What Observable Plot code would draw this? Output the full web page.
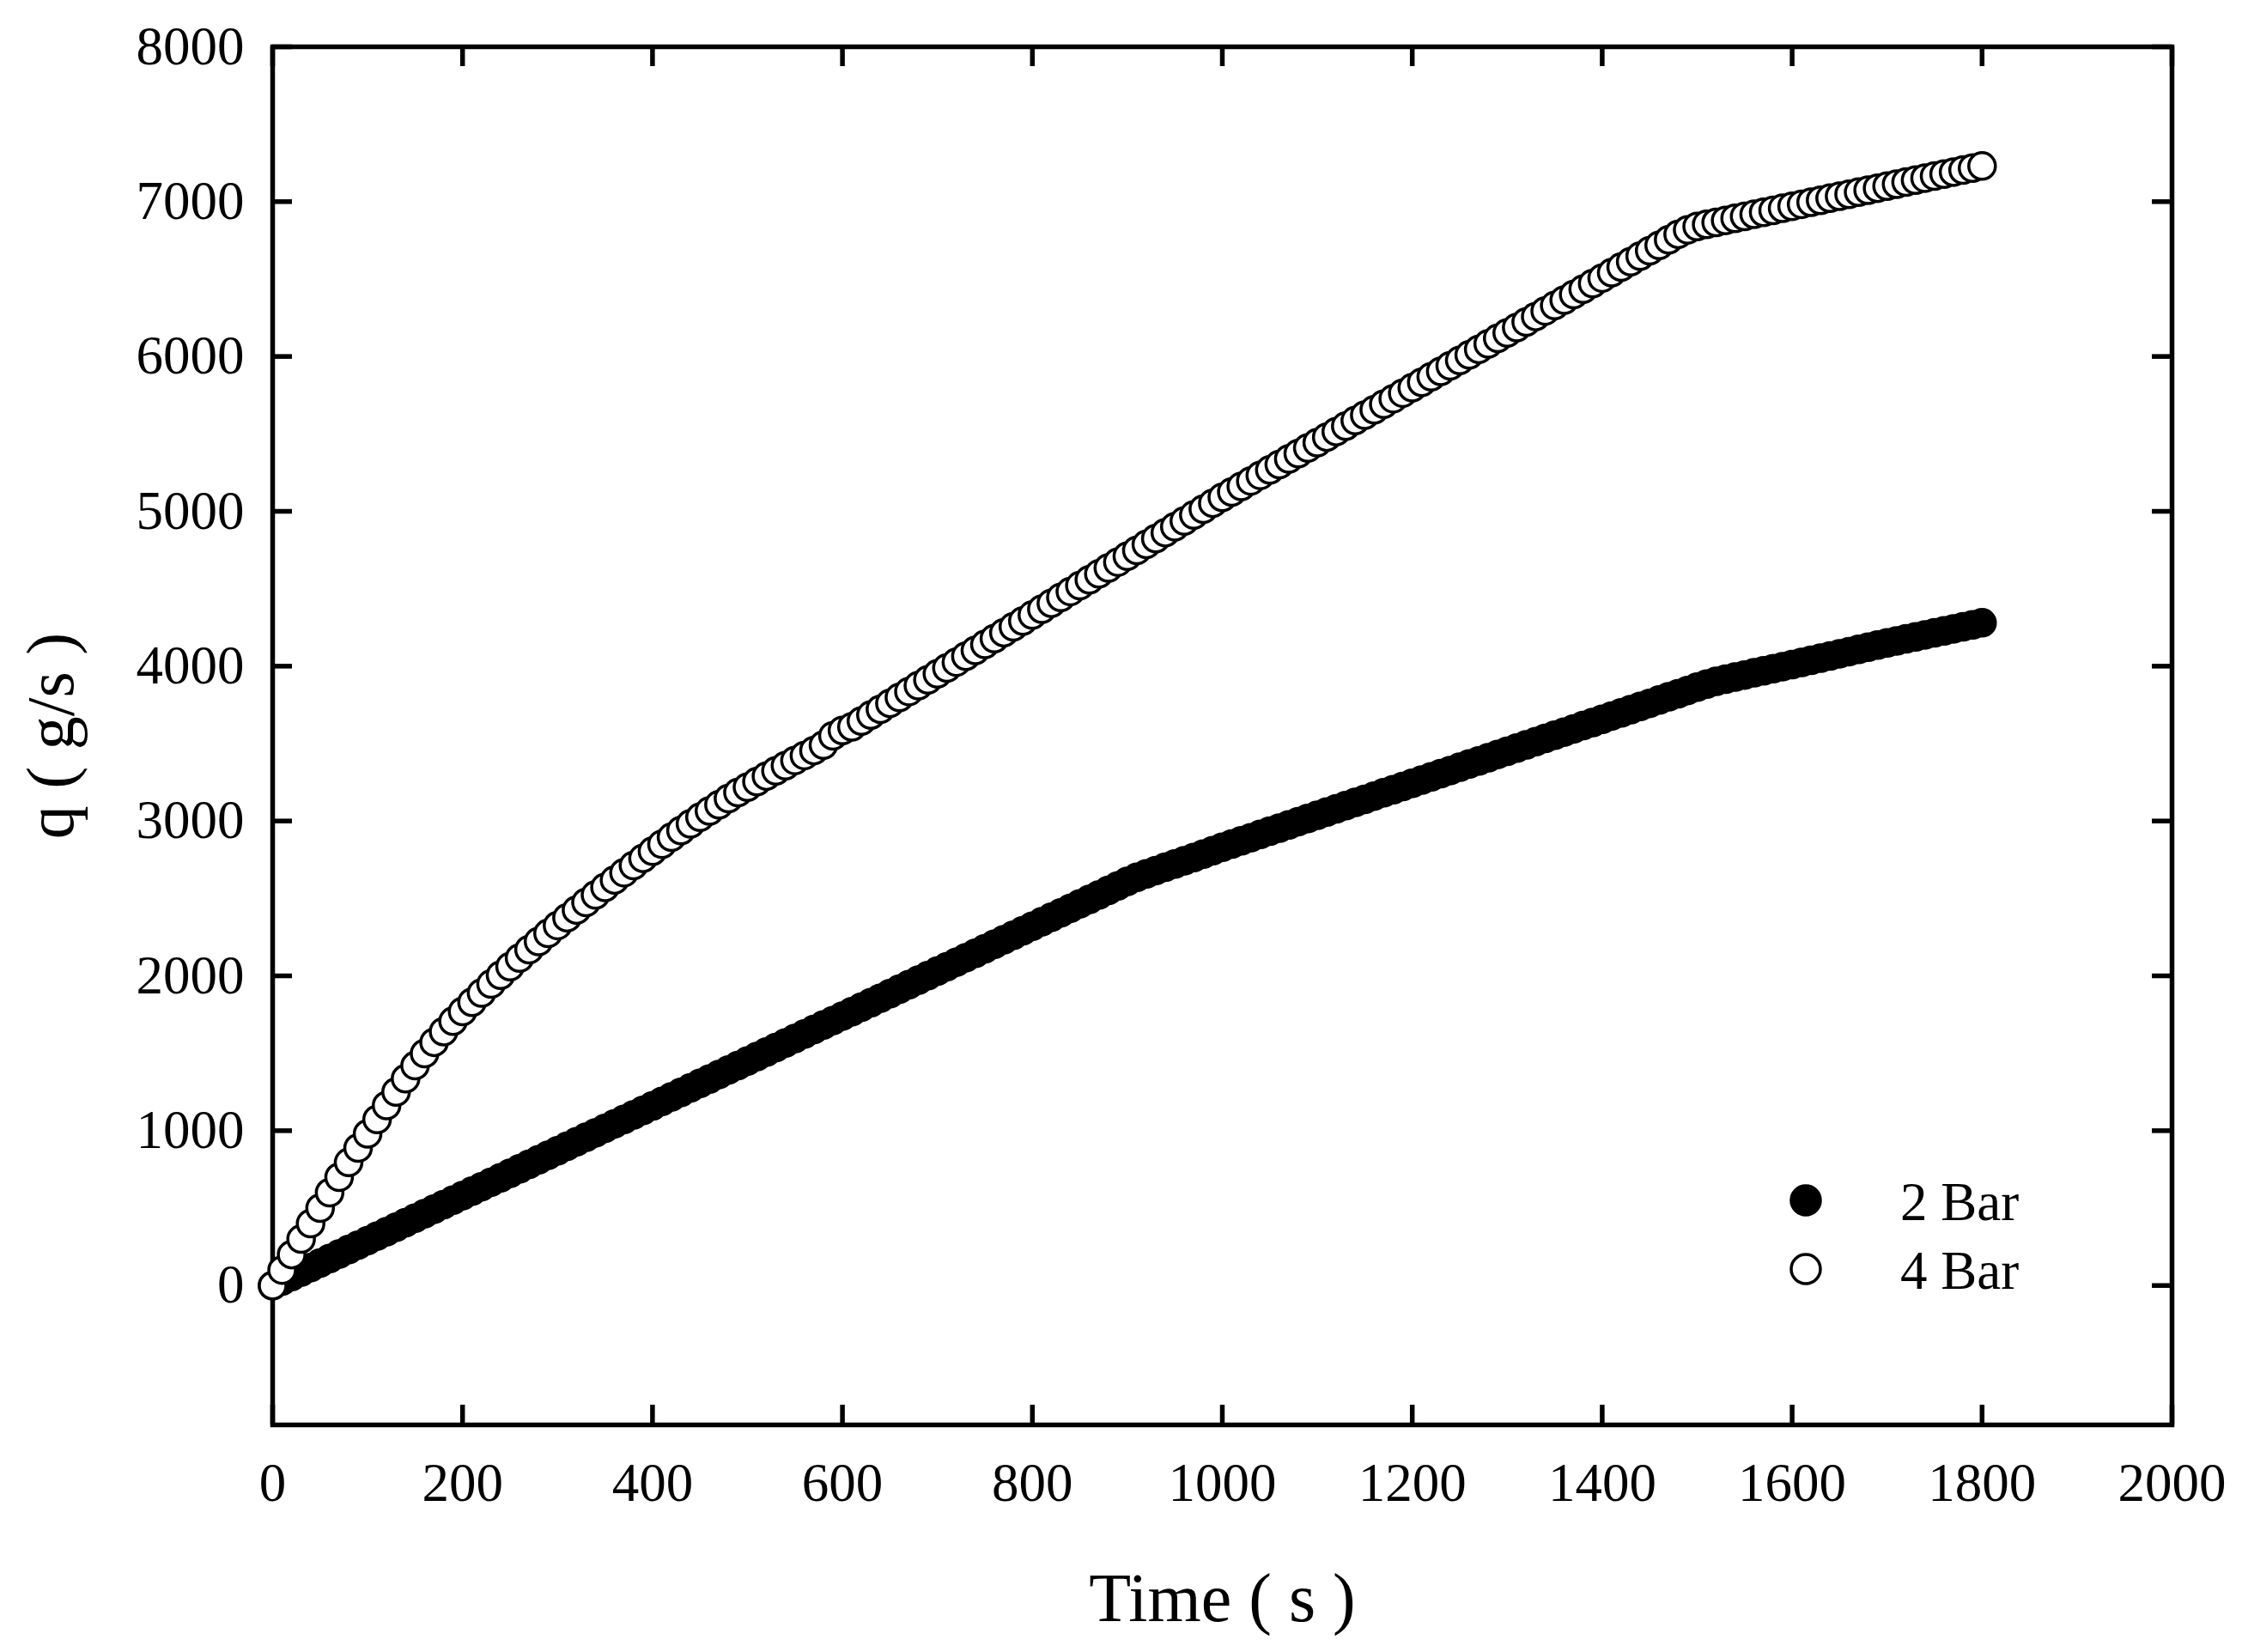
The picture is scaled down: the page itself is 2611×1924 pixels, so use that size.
<!DOCTYPE html>
<html>
<head>
<meta charset="utf-8">
<script src="https://cdn.jsdelivr.net/npm/d3@7"></script>
<script src="https://cdn.jsdelivr.net/npm/@observablehq/plot@0.6"></script>
<style>
html, body { margin: 0; padding: 0; background: #fff; }
#wrap { position: relative; width: 2611px; height: 1924px; }
</style>
</head>
<body>
<div id="wrap"></div>
<script>
// ---- data ----
const time = [
  0,10,20,30,40,50,60,70,80,90,
  100,110,120,130,140,150,160,170,180,190,
  200,210,220,230,240,250,260,270,280,290,
  300,310,320,330,340,350,360,370,380,390,
  400,410,420,430,440,450,460,470,480,490,
  500,510,520,530,540,550,560,570,580,590,
  600,610,620,630,640,650,660,670,680,690,
  700,710,720,730,740,750,760,770,780,790,
  800,810,820,830,840,850,860,870,880,890,
  900,910,920,930,940,950,960,970,980,990,
  1000,1010,1020,1030,1040,1050,1060,1070,1080,1090,
  1100,1110,1120,1130,1140,1150,1160,1170,1180,1190,
  1200,1210,1220,1230,1240,1250,1260,1270,1280,1290,
  1300,1310,1320,1330,1340,1350,1360,1370,1380,1390,
  1400,1410,1420,1430,1440,1450,1460,1470,1480,1490,
  1500,1510,1520,1530,1540,1550,1560,1570,1580,1590,
  1600,1610,1620,1630,1640,1650,1660,1670,1680,1690,
  1700,1710,1720,1730,1740,1750,1760,1770,1780,1790,
  1800
];
const q2Bar = [
  0,29,58,87,116,145,174,203,232,261,
  290,319,348,377,406,435,464,493,522,551,
  580,609,638,667,696,725,754,783,812,841,
  870,899,928,957,986,1015,1044,1073,1102,1131,
  1160,1189,1218,1247,1276,1305,1334,1363,1392,1421,
  1450,1479,1508,1537,1566,1595,1624,1653,1682,1711,
  1740,1769,1798,1827,1856,1885,1914,1943,1972,2001,
  2030,2059,2088,2117,2146,2175,2204,2233,2262,2291,
  2320,2349,2378,2407,2436,2465,2494,2523,2552,2581,
  2610,2636,2658,2680,2701,2722,2743,2764,2786,2808,
  2830,2851,2872,2892,2913,2934,2954,2975,2996,3016,
  3037,3058,3078,3099,3120,3140,3161,3182,3202,3223,
  3244,3264,3285,3306,3326,3347,3368,3388,3409,3430,
  3450,3471,3492,3512,3533,3554,3574,3595,3616,3636,
  3657,3678,3698,3719,3740,3760,3781,3802,3822,3843,
  3864,3884,3902,3916,3930,3943,3957,3970,3984,3997,
  4010,4024,4038,4052,4066,4080,4094,4108,4122,4136,
  4150,4163,4176,4189,4202,4215,4228,4241,4254,4267,
  4280
];
const q4Bar = [
  0,100,200,300,400,500,600,700,795,888,
  980,1073,1163,1250,1336,1420,1498,1571,1640,1707,
  1770,1830,1889,1947,2004,2060,2115,2169,2222,2274,
  2325,2375,2425,2474,2523,2571,2619,2666,2713,2759,
  2805,2850,2895,2939,2982,3024,3065,3105,3145,3184,
  3219,3255,3290,3324,3357,3391,3423,3455,3490,3550,
  3585,3608,3646,3684,3722,3760,3798,3836,3874,3912,
  3950,3988,4026,4064,4102,4140,4178,4216,4254,4292,
  4330,4368,4406,4444,4482,4520,4558,4596,4634,4672,
  4710,4748,4786,4824,4862,4900,4938,4976,5014,5052,
  5090,5125,5161,5196,5232,5267,5302,5338,5373,5409,
  5444,5479,5515,5550,5586,5621,5656,5692,5727,5763,
  5798,5833,5869,5904,5940,5975,6010,6046,6081,6117,
  6152,6187,6223,6258,6294,6329,6364,6400,6435,6471,
  6506,6541,6577,6612,6648,6683,6718,6754,6789,6818,
  6840,6853,6866,6879,6892,6905,6918,6931,6944,6957,
  6970,6983,6996,7009,7022,7035,7048,7061,7074,7087,
  7100,7113,7126,7139,7152,7165,7178,7191,7204,7217,
  7230
];
const seriesNames = ["2 Bar", "4 Bar"];
const xTicks = [0,200,400,600,800,1000,1200,1400,1600,1800,2000];
const yTicks = [0,1000,2000,3000,4000,5000,6000,7000,8000];
const xLabel = "Time ( s )";
const yLabel = "q ( g/s )";

// ---- layout ----
const W = 2611, H = 1924;
const mL = 317, mR = 82, mT = 54, mB = 265;
const innerW = W - mL - mR, innerH = H - mT - mB;
const tickLen = 23, lineW = 5.5;
const font = "'Liberation Serif', 'Times New Roman', serif";

const data2 = time.map((t, i) => ({t, q: q2Bar[i], s: seriesNames[0]}));
const data4 = time.map((t, i) => ({t, q: q4Bar[i], s: seriesNames[1]}));

const chart = Plot.plot({
  width: W, height: H,
  marginLeft: mL, marginRight: mR, marginTop: mT, marginBottom: mB,
  style: {fontFamily: font, background: "white", color: "black", overflow: "visible"},
  x: {domain: [0, 2000], axis: null},
  y: {domain: [-900, 8000], axis: null},
  marks: [
    Plot.axisX(xTicks, {anchor: "bottom", tickSize: 0, tickPadding: 44, fontSize: 63,
      tickFormat: d => String(d), label: null}),
    Plot.axisY(yTicks, {anchor: "left", tickSize: 0, tickPadding: 33, fontSize: 63,
      tickFormat: d => String(d), label: null}),
    Plot.frame({stroke: "black", strokeWidth: lineW}),
    Plot.ruleX(xTicks, {x: d => d, insetTop: innerH - tickLen, stroke: "black", strokeWidth: lineW}),
    Plot.ruleX(xTicks, {x: d => d, insetBottom: innerH - tickLen, stroke: "black", strokeWidth: lineW}),
    Plot.ruleY(yTicks, {y: d => d, insetRight: innerW - tickLen, stroke: "black", strokeWidth: lineW}),
    Plot.ruleY(yTicks, {y: d => d, insetLeft: innerW - tickLen, stroke: "black", strokeWidth: lineW}),
    Plot.dot(data2, {x: "t", y: "q", r: 15.5, fill: "black", stroke: "black", strokeWidth: 3.5}),
    Plot.dot(data4, {x: "t", y: "q", r: 15.5, fill: "white", stroke: "black", strokeWidth: 3.5}),
    Plot.text([xLabel], {text: d => d, frameAnchor: "bottom", dy: 203, fontSize: 80,
      lineAnchor: "middle", textAnchor: "middle", fill: "black"}),
    Plot.text([yLabel], {text: d => d, frameAnchor: "left", dx: -257, rotate: -90, fontSize: 78,
      lineAnchor: "middle", textAnchor: "middle", fill: "black"})
  ]
});

// ---- legend (inside the plot area, lower right) ----
const svg = d3.select(chart);
const legend = svg.append("g").attr("font-family", font).attr("font-size", 63)
  .attr("text-anchor", "start");
const legendItems = [
  {name: seriesNames[0], fill: "black", cy: 1398},
  {name: seriesNames[1], fill: "white", cy: 1478}
];
legendItems.forEach(item => {
  legend.append("circle").attr("cx", 2103).attr("cy", item.cy).attr("r", 17)
    .attr("fill", item.fill).attr("stroke", "black").attr("stroke-width", 3.5);
  legend.append("text").attr("x", 2213).attr("y", item.cy + 23)
    .attr("text-anchor", "start").attr("fill", "black").text(item.name);
});

document.getElementById("wrap").appendChild(chart);
</script>
</body>
</html>
